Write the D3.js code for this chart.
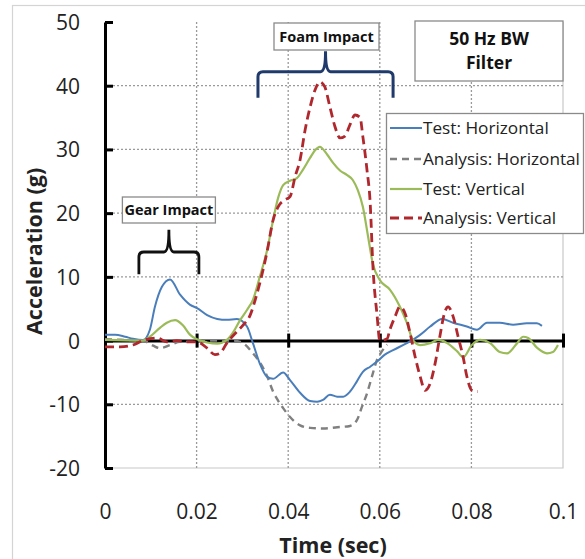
<!DOCTYPE html>
<html>
<head>
<meta charset="utf-8">
<script src="https://cdn.jsdelivr.net/npm/d3@7"></script>
<style>
  html, body { margin: 0; padding: 0; background: #ffffff; }
  svg { display: block; font-family: "Open Sans", "Noto Sans", sans-serif; }
</style>
</head>
<body>
<svg id="chart" width="585" height="559"></svg>
<script>
// Time axis and acceleration axis ticks
const timeTicks = [0, 0.02, 0.04, 0.06, 0.08, 0.1];
const timeTickLabels = ["0", "0.02", "0.04", "0.06", "0.08", "0.1"];
const accelTicks = [-20, -10, 0, 10, 20, 30, 40, 50];
const accelTickLabels = ["-20", "-10", "0", "10", "20", "30", "40", "50"];

// Series: [time (sec), acceleration (g)]
const testHorizontal = [
  [0, 0.9], [0.0022, 0.9], [0.0044, 0.6], [0.0061, 0.3], [0.0083, 0.1],
  [0.0098, 1.7], [0.0109, 5.3], [0.0124, 8.4], [0.0142, 9.6], [0.0164, 7.2],
  [0.0186, 5.6], [0.0201, 5.1], [0.0223, 4.0], [0.0245, 3.4], [0.0266, 3.25],
  [0.0288, 3.4], [0.0310, 2.2], [0.0323, -0.4], [0.0338, -3.6], [0.0354, -5.7],
  [0.0367, -6.0], [0.0389, -5.0], [0.0404, -6.2], [0.0426, -8.2], [0.0448, -9.5],
  [0.0463, -9.6], [0.0476, -9.3], [0.0491, -8.5], [0.0507, -8.8], [0.0520, -8.8],
  [0.0535, -8.0], [0.0550, -6.4], [0.0563, -4.9], [0.0579, -4.1], [0.0594, -3.3],
  [0.0611, -2.2], [0.0629, -1.5], [0.0659, -0.4], [0.0688, 0.9], [0.0710, 2.2],
  [0.0736, 3.4], [0.0760, 2.8], [0.0790, 2.2], [0.0812, 1.7], [0.0834, 2.8],
  [0.0862, 2.8], [0.0891, 2.5], [0.0921, 2.7], [0.0943, 2.7], [0.0954, 2.3]
];

const analysisHorizontal = [
  [0, 0.2], [0.0044, 0.1], [0.0083, 0.0], [0.0105, -0.8], [0.0120, -1.2],
  [0.0142, -0.7], [0.0164, -0.2], [0.0192, -0.2], [0.0208, 0.0], [0.0279, 0.0],
  [0.0301, -0.4], [0.0323, -2.0], [0.0338, -3.4], [0.0354, -5.6], [0.0367, -8.0],
  [0.0376, -9.2], [0.0389, -10.6], [0.0404, -12.0], [0.0426, -13.3], [0.0448, -13.7],
  [0.0476, -13.8], [0.0507, -13.6], [0.0535, -13.4], [0.0550, -12.5], [0.0561, -10.4],
  [0.0572, -8.3], [0.0585, -5.1], [0.0594, -3.0], [0.0600, -2.2], [0.0616, -0.6]
];

const testVertical = [
  [0, 0.1], [0.0083, 0.0], [0.0098, 0.6], [0.0120, 2.0], [0.0135, 2.8],
  [0.0153, 3.2], [0.0170, 2.4], [0.0186, 0.9], [0.0201, 0.2], [0.0223, -0.3],
  [0.0245, -0.5], [0.0266, 0.1], [0.0279, 1.2], [0.0295, 3.2], [0.0310, 4.8],
  [0.0323, 6.4], [0.0338, 10.0], [0.0354, 14.2], [0.0367, 18.9], [0.0378, 22.4],
  [0.0389, 24.4], [0.0404, 25.1], [0.0419, 25.5], [0.0432, 26.8], [0.0448, 28.7],
  [0.0459, 29.9], [0.0469, 30.4], [0.0485, 29.2], [0.0498, 27.9], [0.0513, 26.7],
  [0.0528, 26.0], [0.0541, 25.2], [0.0552, 23.6], [0.0563, 21.0], [0.0574, 16.5],
  [0.0585, 12.0], [0.0600, 9.5], [0.0622, 8.0], [0.0644, 5.3], [0.0659, 2.8],
  [0.0672, 0.1], [0.0688, -0.7], [0.0710, -0.4], [0.0727, 0.1], [0.0747, -0.4],
  [0.0769, -1.7], [0.0782, -2.6], [0.0801, -0.7], [0.0819, 0.1], [0.0841, -0.4],
  [0.0862, -1.8], [0.0878, -2.0], [0.0900, -0.4], [0.0913, 0.6], [0.0924, 0.4],
  [0.0943, -1.1], [0.0965, -2.0], [0.0978, -1.8], [0.0989, -0.7]
];

const analysisVertical = [
  [0, -1.0], [0.0033, -1.0], [0.0061, -0.7], [0.0083, 0.0], [0.0114, 0.4],
  [0.0135, -0.2], [0.0157, 0.0], [0.0179, -0.2], [0.0201, -0.2], [0.0223, -1.2],
  [0.0240, -2.2], [0.0251, -2.0], [0.0266, -0.4], [0.0288, 1.4], [0.0301, 2.4],
  [0.0317, 4.0], [0.0328, 6.4], [0.0338, 9.0], [0.0354, 14.0], [0.0367, 18.9],
  [0.0378, 21.0], [0.0393, 22.1], [0.0404, 22.6], [0.0415, 25.7], [0.0426, 28.4],
  [0.0437, 33.1], [0.0448, 36.7], [0.0459, 39.4], [0.0469, 40.6], [0.0480, 39.8],
  [0.0491, 36.7], [0.0502, 33.6], [0.0513, 31.8], [0.0524, 32.1], [0.0535, 33.9],
  [0.0546, 35.4], [0.0557, 35.0], [0.0563, 32.0], [0.0572, 26.8], [0.0579, 21.6],
  [0.0585, 11.6], [0.0594, 4.0], [0.0600, 0.0], [0.0616, 0.3], [0.0622, 1.7],
  [0.0633, 3.7], [0.0644, 5.3], [0.0655, 4.3], [0.0666, 1.2], [0.0677, -2.5],
  [0.0688, -5.6], [0.0699, -7.8], [0.0710, -6.7], [0.0721, -3.5], [0.0731, 0.6],
  [0.0742, 4.5], [0.0749, 5.3], [0.0760, 3.8], [0.0771, 0.6], [0.0782, -2.6],
  [0.0790, -5.6], [0.0801, -7.8], [0.0814, -8.0]
];

const seriesNames = ["Test: Horizontal", "Analysis: Horizontal", "Test: Vertical", "Analysis: Vertical"];
const seriesData = [testHorizontal, analysisHorizontal, testVertical, analysisVertical];
const seriesColors = ["#4a7ebb", "#808080", "#9bbb59", "#b0282e"];
const seriesDash = [null, "7,5", null, "9,5"];
const seriesWidth = [2, 2.4, 2.2, 2.8];

// Annotation spans (time) and levels (g)
const gearSpan = [0.0074, 0.0205];
const gearLevels = { leg: 10.4, bar: 13.9, tip: 17.4 };
const foamSpan = [0.0334, 0.0629];
const foamLevels = { leg: 38.1, bar: 42.2, tip: 45.4 };

const svg = d3.select("#chart");
const W = 585, H = 559;
const plot = { left: 105, right: 563, top: 22, bottom: 468 };

const x = d3.scaleLinear().domain([0, 0.1]).range([plot.left, plot.right]);
const y = d3.scaleLinear().domain([-20, 50]).range([plot.bottom, plot.top]);

// Chart frame
svg.append("rect")
  .attr("x", 12.5).attr("y", 5.5)
  .attr("width", W).attr("height", H)
  .attr("fill", "#ffffff").attr("stroke", "#d4d4d4").attr("stroke-width", 1.2);

// Plot area border (right and bottom)
svg.append("path")
  .attr("d", `M${plot.right},${plot.top} V${plot.bottom} H${plot.left}`)
  .attr("fill", "none").attr("stroke", "#c8c8c8").attr("stroke-width", 1.2);

// Dotted gridlines
const grid = svg.append("g").attr("stroke", "#9a9a9a").attr("stroke-width", 1.3)
  .attr("stroke-dasharray", "2,2");
grid.selectAll("line.h").data(accelTicks.filter(v => v !== 0 && v !== -20 && v !== 50))
  .join("line").attr("class", "h")
  .attr("x1", plot.left).attr("x2", plot.right)
  .attr("y1", d => y(d)).attr("y2", d => y(d));
grid.selectAll("line.v").data(timeTicks.filter(v => v > 0 && v < 0.1))
  .join("line").attr("class", "v")
  .attr("y1", plot.top).attr("y2", plot.bottom)
  .attr("x1", d => x(d)).attr("x2", d => x(d));

// Y axis with inward ticks
const yAxis = d3.axisLeft(y).tickValues(accelTicks).tickSize(-8).tickSizeOuter(0).tickPadding(25)
  .tickFormat((d, i) => accelTickLabels[i]);
const gy = svg.append("g").attr("transform", `translate(${plot.left},0)`).call(yAxis);
gy.select(".domain").attr("stroke", "#000").attr("stroke-width", 3);
gy.selectAll(".tick line").attr("stroke", "#000").attr("stroke-width", 3);
gy.selectAll(".tick text").attr("font-size", 21).attr("fill", "#222")
  .attr("font-family", "'Open Sans', sans-serif").attr("dy", "0.36em");

// Zero line with crossing ticks
const zeroAxis = d3.axisBottom(x).tickValues(timeTicks.filter(v => v > 0)).tickSize(7).tickSizeOuter(0).tickFormat("");
const gz = svg.append("g").attr("transform", `translate(0,${y(0)})`).call(zeroAxis);
gz.select(".domain").attr("stroke", "#000").attr("stroke-width", 3);
gz.selectAll(".tick line").attr("y1", -7).attr("stroke", "#000").attr("stroke-width", 3);

// X tick labels below the plot
const xAxis = d3.axisBottom(x).tickValues(timeTicks).tickSize(0)
  .tickFormat((d, i) => timeTickLabels[i]);
const gx = svg.append("g").attr("transform", `translate(0,${plot.bottom})`).call(xAxis);
gx.select(".domain").remove();
gx.selectAll(".tick text").attr("font-size", 21).attr("fill", "#222")
  .attr("font-family", "'Open Sans', sans-serif").attr("y", 51).attr("dy", 0);

// Axis titles
svg.append("text")
  .attr("x", (plot.left + plot.right) / 2 - 1).attr("y", 553)
  .attr("text-anchor", "middle").attr("font-size", 21.5).attr("font-weight", "bold").attr("fill", "#222")
  .text("Time (sec)");
svg.append("text")
  .attr("transform", `translate(42,${y(14)}) rotate(-90)`)
  .attr("text-anchor", "middle").attr("font-size", 21.5).attr("font-weight", "bold").attr("fill", "#222")
  .text("Acceleration (g)");

// Series lines
const line = d3.line().x(d => x(d[0])).y(d => y(d[1])).curve(d3.curveMonotoneX);
const lineOrder = [1, 0, 2, 3];
svg.append("g").selectAll("path").data(lineOrder).join("path")
  .attr("d", i => line(seriesData[i]))
  .attr("fill", "none")
  .attr("stroke", i => seriesColors[i])
  .attr("stroke-width", i => seriesWidth[i])
  .attr("stroke-dasharray", i => seriesDash[i])
  .attr("stroke-linejoin", "round");

// Curly brace over a time span
function bracePath(span, lv, r) {
  const x0 = x(span[0]), x1 = x(span[1]), xm = (x0 + x1) / 2;
  const yl = y(lv.leg), yb = y(lv.bar), yt = y(lv.tip);
  return `M${x0},${yl} V${yb + r} Q${x0},${yb} ${x0 + r},${yb} H${xm - r} Q${xm},${yb} ${xm},${yt}` +
         ` Q${xm},${yb} ${xm + r},${yb} H${x1 - r} Q${x1},${yb} ${x1},${yb + r} V${yl}`;
}
svg.append("path").attr("d", bracePath(gearSpan, gearLevels, 5))
  .attr("fill", "none").attr("stroke", "#111").attr("stroke-width", 2.8);
svg.append("path").attr("d", bracePath(foamSpan, foamLevels, 5))
  .attr("fill", "none").attr("stroke", "#1f3a6b").attr("stroke-width", 3);

// Labelled boxes
function labelBox(cx, cy, w, h, lines, size, lineGap) {
  const g = svg.append("g");
  g.append("rect").attr("x", cx - w / 2).attr("y", cy - h / 2).attr("width", w).attr("height", h)
    .attr("fill", "#ffffff").attr("stroke", "#8a8a8a").attr("stroke-width", 1.3);
  lines.forEach((t, i) => {
    g.append("text").attr("x", cx).attr("y", cy + (i - (lines.length - 1) / 2) * lineGap)
      .attr("dy", "0.36em").attr("text-anchor", "middle")
      .attr("font-size", size).attr("font-weight", "bold").attr("fill", "#111").text(t);
  });
}
labelBox(x(d3.mean(gearSpan)), 210, 93, 26, ["Gear Impact"], 14.5, 0);
labelBox(326.5, 36.5, 105, 27, ["Foam Impact"], 14.5, 0);
labelBox(489, 51, 148, 60, ["50 Hz BW", "Filter"], 17.5, 24);

// Legend
const legend = svg.append("g");
legend.append("rect").attr("x", 386.5).attr("y", 113.5).attr("width", 197).attr("height", 120)
  .attr("fill", "#ffffff").attr("stroke", "#8a8a8a").attr("stroke-width", 1.3);
const legendY = [128, 159, 189, 218];
seriesNames.forEach((name, i) => {
  legend.append("line").attr("x1", 390).attr("x2", 422).attr("y1", legendY[i]).attr("y2", legendY[i])
    .attr("stroke", seriesColors[i]).attr("stroke-width", seriesWidth[i])
    .attr("stroke-dasharray", seriesDash[i]);
  legend.append("text").attr("x", 423).attr("y", legendY[i]).attr("dy", "0.36em")
    .attr("font-size", 17.2).attr("fill", "#222").text(name);
});
</script>
</body>
</html>
